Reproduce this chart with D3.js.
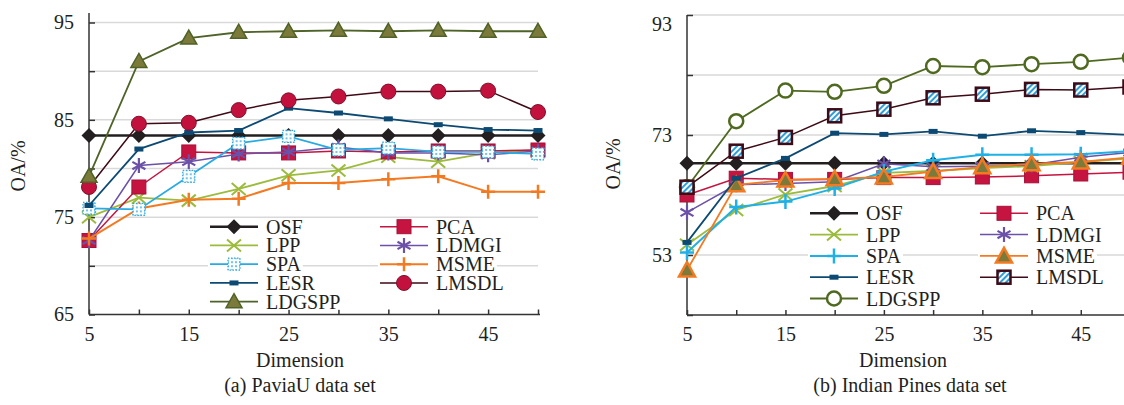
<!DOCTYPE html>
<html>
<head>
<meta charset="utf-8">
<script src="https://cdn.jsdelivr.net/npm/d3@7"></script>
<style>
  body { margin: 0; background: #fff; }
  text { font-family: "Liberation Serif", "Times New Roman", serif; fill: #231f20; }
</style>
</head>
<body>
<svg id="chart" width="1124" height="405"></svg>
<script>
// dimensions on the x axis
const dims = [5, 10, 15, 20, 25, 30, 35, 40, 45, 50]

// (a) PaviaU
const paviaOSF    = [83.4, 83.4, 83.4, 83.4, 83.4, 83.4, 83.4, 83.4, 83.4, 83.4]
const paviaPCA    = [72.6, 78.1, 81.7, 81.6, 81.6, 81.8, 81.7, 81.8, 81.8, 81.9]
const paviaLPP    = [75.0, 77.0, 76.7, 77.9, 79.3, 79.8, 81.2, 80.7, 81.6, 81.9]
const paviaLDMGI  = [72.6, 80.3, 80.7, 81.5, 81.7, 82.2, 81.6, 81.6, 81.4, 81.8]
const paviaSPA    = [75.9, 75.8, 79.2, 82.6, 83.3, 81.9, 82.1, 81.7, 81.7, 81.5]
const paviaMSME   = [72.8, 75.9, 76.8, 76.9, 78.5, 78.5, 78.9, 79.2, 77.6, 77.6]
const paviaLESR   = [76.2, 82.0, 83.7, 83.9, 86.2, 85.7, 85.1, 84.5, 84.0, 83.9]
const paviaLMSDL  = [78.1, 84.6, 84.7, 86.0, 87.0, 87.4, 87.9, 87.9, 88.0, 85.8]
const paviaLDGSPP = [79.2, 91.0, 93.4, 94.0, 94.1, 94.2, 94.1, 94.2, 94.1, 94.1]

// (b) Indian Pines
const indianOSF    = [68.3, 68.3, 68.3, 68.3, 68.3, 68.3, 68.3, 68.3, 68.3, 68.3]
const indianPCA    = [63.0, 65.8, 65.6, 65.6, 65.9, 65.9, 66.0, 66.2, 66.5, 66.8]
const indianLPP    = [54.7, 60.5, 63.1, 64.5, 66.7, 67.0, 67.5, 67.8, 68.5, 69.1]
const indianLDMGI  = [60.1, 64.7, 64.9, 65.2, 68.2, 67.7, 67.8, 68.0, 69.3, 70.1]
const indianSPA    = [53.4, 61.0, 61.9, 64.1, 66.9, 68.8, 69.7, 69.7, 69.8, 70.3]
const indianMSME   = [50.5, 64.7, 65.5, 65.7, 66.0, 66.9, 67.7, 68.2, 68.5, 69.3]
const indianLESR   = [55.1, 65.8, 69.1, 73.3, 73.1, 73.6, 72.8, 73.7, 73.4, 73.0]
const indianLMSDL  = [64.3, 70.3, 72.6, 76.2, 77.3, 79.2, 79.8, 80.6, 80.5, 81.0]
const indianLDGSPP = [64.3, 75.3, 80.4, 80.2, 81.2, 84.5, 84.3, 84.8, 85.2, 85.9]

// tick labels
const xLabels = [5, 15, 25, 35, 45]
const paviaYLabels = [65, 75, 85, 95]
const indianYLabels = [53, 73, 93]

const svg = d3.select("#chart")

const defs = svg.append("defs")
let dots = defs.append("pattern").attr("id", "dots")
  .attr("width", 4).attr("height", 4).attr("patternUnits", "userSpaceOnUse")
dots.append("rect").attr("width", 4).attr("height", 4).attr("fill", "#fff")
dots.append("circle").attr("cx", 2).attr("cy", 2).attr("r", 0.9).attr("fill", "#29abe2")
let hatch = defs.append("pattern").attr("id", "hatch")
  .attr("width", 4).attr("height", 4).attr("patternUnits", "userSpaceOnUse")
  .attr("patternTransform", "rotate(45)")
hatch.append("rect").attr("width", 4).attr("height", 4).attr("fill", "#fff")
hatch.append("rect").attr("width", 2).attr("height", 4).attr("fill", "#2b9fd9")

// draws one marker centred at 0,0 inside g
function marker(g, type) {
  switch (type) {
    case "diamond":
      g.append("path").attr("d", "M0,-7.5L7.5,0L0,7.5L-7.5,0Z").attr("fill", "#231f20"); break
    case "square":
      g.append("rect").attr("x", -7).attr("y", -7).attr("width", 14).attr("height", 14)
        .attr("fill", "#c4143f").attr("stroke", "#a8103a").attr("stroke-width", 1); break
    case "x":
      g.append("path").attr("d", "M-7,-6L7,6M-7,6L7,-6").attr("stroke", "#9cbb3c").attr("stroke-width", 2); break
    case "asterisk":
      g.append("path").attr("d", "M0,-7.5L0,7.5M-6.5,-3.7L6.5,3.7M-6.5,3.7L6.5,-3.7")
        .attr("stroke", "#6b51a8").attr("stroke-width", 2.2); break
    case "dotsq":
      g.append("rect").attr("x", -6).attr("y", -6).attr("width", 12).attr("height", 12)
        .attr("fill", "url(#dots)").attr("stroke", "#29abe2").attr("stroke-width", 1.3)
        .attr("stroke-dasharray", "1.5,1.5"); break
    case "plusO":
      g.append("path").attr("d", "M-7,0L7,0M0,-7L0,7").attr("stroke", "#f47a22").attr("stroke-width", 2.5); break
    case "plusC":
      g.append("path").attr("d", "M-7,0L7,0M0,-7.5L0,7.5").attr("stroke", "#1fb0e6").attr("stroke-width", 2.5); break
    case "bar":
      g.append("rect").attr("x", -4.5).attr("y", -2.5).attr("width", 9).attr("height", 5).attr("fill", "#0d4a73"); break
    case "circle":
      g.append("circle").attr("r", 7.5).attr("fill", "#c2113d").attr("stroke", "#80102c").attr("stroke-width", 1); break
    case "tri":
      g.append("path").attr("d", "M0,-8L8,6L-8,6Z").attr("fill", "#7b7a3a")
        .attr("stroke", "#4f6228").attr("stroke-width", 1.5); break
    case "ocircle":
      g.append("circle").attr("r", 7).attr("fill", "#fff").attr("stroke", "#4f6a20").attr("stroke-width", 2.5); break
    case "hatchsq":
      g.append("rect").attr("x", -6.5).attr("y", -6.5).attr("width", 13).attr("height", 13)
        .attr("fill", "url(#hatch)").attr("stroke", "#3d0a16").attr("stroke-width", 2.5); break
    case "triO":
      g.append("path").attr("d", "M0,-8L8,6.5L-8,6.5Z").attr("fill", "#7b7a3a")
        .attr("stroke", "#f47a22").attr("stroke-width", 2.5); break
  }
}

function drawPanel(p) {
  let x = d3.scaleLinear().domain([5, 50]).range([p.x0, p.x1])
  let y = d3.scaleLinear().domain(p.yDomain).range([p.yBot, p.yTop])
  let g = svg.append("g")

  // gridlines
  g.selectAll("line.grid").data(p.yTicks.slice(1)).enter().append("line")
    .attr("class", "grid")
    .attr("x1", p.x0).attr("x2", p.gridRight)
    .attr("y1", d => y(d)).attr("y2", d => y(d))
    .attr("stroke", "#d9d9d9").attr("stroke-width", 1.5)

  // y axis
  let yAxis = d3.axisLeft(y).tickValues(p.yTicks).tickSize(-6).tickPadding(15)
    .tickFormat(d => p.yLabels.includes(d) ? d : "")
  let ya = g.append("g").attr("transform", "translate(" + p.x0 + ",0)").call(yAxis)
  ya.select(".domain").remove()
  ya.selectAll("line").attr("stroke", "#333").attr("stroke-width", 1.5)
  ya.selectAll("text").attr("font-size", 20).attr("font-family", "Liberation Serif").attr("fill", "#231f20")
  if (p.topLabelShift) ya.selectAll("text").filter(d => d === p.yDomain[1]).attr("dy", p.topLabelShift)
  g.append("line").attr("x1", p.x0).attr("x2", p.x0).attr("y1", p.axisTop).attr("y2", p.yBot)
    .attr("stroke", "#333").attr("stroke-width", 1.5)

  // x axis
  let xAxis = d3.axisBottom(x).tickValues(dims).tickSize(-5).tickPadding(12)
    .tickFormat(d => xLabels.includes(d) ? d : "")
  let xa = g.append("g").attr("transform", "translate(0," + p.yBot + ")").call(xAxis)
  xa.select(".domain").remove()
  xa.selectAll("line").attr("stroke", "#333").attr("stroke-width", 1.5)
  xa.selectAll("text").attr("font-size", 20).attr("font-family", "Liberation Serif").attr("fill", "#231f20")
  g.append("line").attr("x1", p.x0).attr("x2", p.axisRight).attr("y1", p.yBot).attr("y2", p.yBot)
    .attr("stroke", "#333").attr("stroke-width", 1.5)

  // series
  let line = d3.line().x((d, i) => x(dims[i])).y(d => y(d))
  p.series.forEach(s => {
    g.append("path").datum(s.values).attr("d", line)
      .attr("fill", "none").attr("stroke", s.color).attr("stroke-width", s.width)
    s.values.forEach((v, i) => {
      marker(g.append("g").attr("transform", "translate(" + x(dims[i]) + "," + y(v) + ")"), s.marker)
    })
  })

  // legend, each entry on a white patch that hides the gridlines
  let byName = {}
  p.series.forEach(s => byName[s.name] = s)
  p.legend.forEach((col, c) => {
    col.names.forEach((name, r) => {
      let s = byName[name]
      let ly = p.legendTop + r * p.legendStep
      let lg = g.append("g").attr("transform", "translate(" + col.x + "," + ly + ")")
      let bg = lg.append("rect").attr("fill", "#fff")
      lg.append("line").attr("x1", 0).attr("x2", 48).attr("stroke", s.color).attr("stroke-width", s.width)
      marker(lg.append("g").attr("transform", "translate(24,0)"), s.marker)
      let t = lg.append("text").attr("x", 56).attr("dy", "0.35em").attr("font-size", 20).text(name)
      let w = t.node().getComputedTextLength()
      bg.attr("x", -2).attr("y", -8).attr("width", 56 + w + 4).attr("height", 16)
    })
  })

  // labels
  g.append("text").attr("transform", "translate(" + p.yTitleX + "," + p.yTitleY + ") rotate(-90)")
    .attr("text-anchor", "middle").attr("dy", "0.35em").attr("font-size", 20).text("OA/%")
  g.append("text").attr("x", p.xTitleX).attr("y", 367).attr("text-anchor", "middle")
    .attr("font-size", 20).text("Dimension")
  g.append("text").attr("x", p.captionX).attr("y", 392).attr("text-anchor", "middle")
    .attr("font-size", 20).text(p.caption)
}

drawPanel({
  x0: 89, x1: 538, axisRight: 540, gridRight: 538,
  yDomain: [65, 95], yTop: 22.5, yBot: 314.5, axisTop: 13,
  yTicks: d3.range(65, 96, 5), yLabels: paviaYLabels,
  yTitleX: 18, yTitleY: 166, xTitleX: 300, captionX: 300,
  caption: "(a) PaviaU data set",
  series: [
    { name: "OSF", values: paviaOSF, color: "#231f20", width: 2.5, marker: "diamond" },
    { name: "LPP", values: paviaLPP, color: "#9cbb3c", width: 1.8, marker: "x" },
    { name: "PCA", values: paviaPCA, color: "#c4143f", width: 1.5, marker: "square" },
    { name: "LDMGI", values: paviaLDMGI, color: "#6b51a8", width: 1.5, marker: "asterisk" },
    { name: "MSME", values: paviaMSME, color: "#f47a22", width: 2, marker: "plusO" },
    { name: "SPA", values: paviaSPA, color: "#29abe2", width: 1.8, marker: "dotsq" },
    { name: "LESR", values: paviaLESR, color: "#0d4a73", width: 1.8, marker: "bar" },
    { name: "LMSDL", values: paviaLMSDL, color: "#3d0a16", width: 1.5, marker: "circle" },
    { name: "LDGSPP", values: paviaLDGSPP, color: "#4f6228", width: 1.8, marker: "tri" }
  ],
  legendTop: 226.7, legendStep: 18.75,
  legend: [
    { x: 210, names: ["OSF", "LPP", "SPA", "LESR", "LDGSPP"] },
    { x: 380, names: ["PCA", "LDMGI", "MSME", "LMSDL"] }
  ]
})

drawPanel({
  x0: 687, x1: 1130, axisRight: 1124, gridRight: 1124,
  yDomain: [43, 93], yTop: 15, yBot: 315, axisTop: 15, topLabelShift: "0.75em",
  yTicks: d3.range(43, 94, 10), yLabels: indianYLabels,
  yTitleX: 613, yTitleY: 164, xTitleX: 903, captionX: 910,
  caption: "(b) Indian Pines data set",
  series: [
    { name: "OSF", values: indianOSF, color: "#231f20", width: 2.5, marker: "diamond" },
    { name: "PCA", values: indianPCA, color: "#c4143f", width: 1.5, marker: "square" },
    { name: "LPP", values: indianLPP, color: "#9cbb3c", width: 1.8, marker: "x" },
    { name: "LDMGI", values: indianLDMGI, color: "#6b51a8", width: 1.5, marker: "asterisk" },
    { name: "SPA", values: indianSPA, color: "#1fb0e6", width: 2, marker: "plusC" },
    { name: "MSME", values: indianMSME, color: "#f47a22", width: 1.8, marker: "triO" },
    { name: "LESR", values: indianLESR, color: "#0d4a73", width: 1.8, marker: "bar" },
    { name: "LDGSPP", values: indianLDGSPP, color: "#4f6a20", width: 1.8, marker: "ocircle" },
    { name: "LMSDL", values: indianLMSDL, color: "#3d0a16", width: 1.5, marker: "hatchsq" }
  ],
  legendTop: 213.3, legendStep: 21.3,
  legend: [
    { x: 810, names: ["OSF", "LPP", "SPA", "LESR", "LDGSPP"] },
    { x: 980, names: ["PCA", "LDMGI", "MSME", "LMSDL"] }
  ]
})
</script>
</body>
</html>
